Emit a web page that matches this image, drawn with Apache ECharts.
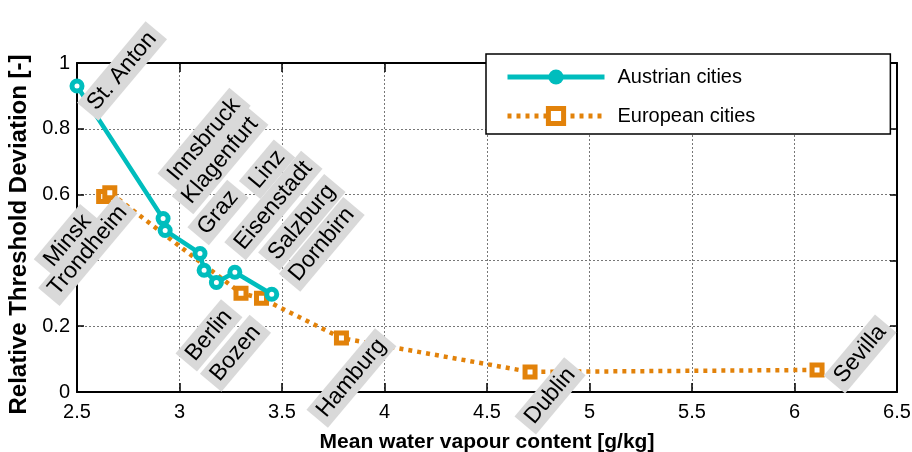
<!DOCTYPE html>
<html><head><meta charset="utf-8">
<script src="https://cdn.jsdelivr.net/npm/echarts@6/dist/echarts.min.js"></script>
<style>html,body{margin:0;padding:0;background:#fff}#c{width:912px;height:452px}</style>
</head><body><div id="c"></div>
<script>
// ---- data ----
const austrianCities = ['St. Anton','Innsbruck','Klagenfurt','Graz','Linz','Eisenstadt','Salzburg','Dornbirn'];
const austrianVapour = [2.50, 2.92, 2.93, 3.10, 3.12, 3.18, 3.27, 3.45];
const austrianDeviation = [0.93, 0.527, 0.491, 0.421, 0.370, 0.333, 0.364, 0.297];
const europeanCities = ['Minsk','Trondheim','Berlin','Bozen','Hamburg','Dublin','Sevilla'];
const europeanVapour = [2.63, 2.66, 3.30, 3.40, 3.79, 4.71, 6.11];
const europeanDeviation = [0.594, 0.606, 0.300, 0.285, 0.164, 0.061, 0.067];
const xTickLabels = ['2.5','3','3.5','4','4.5','5','5.5','6','6.5'];
const yTickLabels = ['0','0.2','0.4','0.6','0.8','1'];
const seriesNames = ['Austrian cities','European cities'];
const xTitle = 'Mean water vapour content [g/kg]';
const yTitle = 'Relative Threshold Deviation [-]';

// ---- label layout (screen displacement from point to label centre, px) ----
const labelShift = {
  'St. Anton':[45,-15], 'Innsbruck':[41,-79], 'Klagenfurt':[55,-70], 'Graz':[18,-41],
  'Linz':[63,-101], 'Eisenstadt':[57,-77], 'Salzburg':[67,-50], 'Dornbirn':[50,-50],
  'Minsk':[-36,44], 'Trondheim':[-22,58], 'Berlin':[-32,42], 'Bozen':[-26,55],
  'Hamburg':[10,40], 'Dublin':[20,24], 'Sevilla':[43,-16]
};
const ROT = 50;
function rotOffset(d){
  const t = ROT*Math.PI/180, c=Math.cos(t), s=Math.sin(t);
  return [d[0]*c - d[1]*s, d[0]*s + d[1]*c];
}
function build(names, xs, ys){
  return names.map((n,i)=>({name:n, value:[xs[i], ys[i]], label:{offset: rotOffset(labelShift[n])}}));
}
const FONT = 'Liberation Sans, Arial, sans-serif';
const TEAL = '#00bdbd', ORANGE = '#e2820a';
const labelStyle = {
  show:true, position:'inside', rotate:ROT, formatter:'{b}', color:'#000',
  fontFamily:FONT, fontSize:23, backgroundColor:'#d9d9d9', padding:[3,6,2,6]
};

const chart = echarts.init(document.getElementById('c'), null, {renderer:'canvas'});
const axisCommon = {
  type:'value', axisLine:{show:true, onZero:false, lineStyle:{color:'#000', width:2}},
  axisTick:{show:true, inside:true, lineStyle:{color:'#000', width:1.5}},
};
chart.setOption({
  animation:false,
  backgroundColor:'#fff',
  grid:{left:77, right:15, top:63, bottom:60, containLabel:false, outerBoundsMode:'none'},
  legend:{
    orient:'vertical', left:486, top:54,
    data:[
      {name:seriesNames[0], itemStyle:{color:TEAL, borderColor:TEAL, borderWidth:0}, lineStyle:{color:TEAL, width:5}},
      {name:seriesNames[1], itemStyle:{color:'#fff', borderColor:ORANGE, borderWidth:5}, lineStyle:{color:ORANGE, width:5, type:[4,5]}}
    ],
    itemWidth:97, itemHeight:19, itemGap:17,
    padding:[12,135,7,19],
    backgroundColor:'#fff', borderColor:'#000', borderWidth:1.5,
    textStyle:{fontFamily:FONT, fontSize:20, color:'#000', lineHeight:22, padding:[0,0,0,8]}
  },
  xAxis:[
    Object.assign({}, axisCommon, {
      min:2.5, max:6.5, interval:0.5, position:'bottom',
      axisTick:Object.assign({}, axisCommon.axisTick, {length:9}),
      axisLabel:{fontFamily:FONT, fontSize:20, color:'#000', margin:10,
        formatter:(v)=>xTickLabels[Math.round((v-2.5)/0.5)] ?? ''},
      splitLine:{show:true, lineStyle:{color:'#777', width:1, type:[2,2]}},
      name:xTitle, nameLocation:'middle', nameGap:40,
      nameTextStyle:{fontFamily:FONT, fontSize:21, fontWeight:'bold', color:'#000'}
    }),
    Object.assign({}, axisCommon, {
      min:2.5, max:6.5, interval:0.5, position:'top',
      axisTick:Object.assign({}, axisCommon.axisTick, {length:9}),
      axisLabel:{show:false}, splitLine:{show:false}
    })
  ],
  yAxis:[
    Object.assign({}, axisCommon, {
      min:0, max:1, interval:0.2, position:'left',
      axisTick:Object.assign({}, axisCommon.axisTick, {length:7}),
      axisLabel:{fontFamily:FONT, fontSize:20, color:'#000', margin:7,
        formatter:(v)=>yTickLabels[Math.round(v/0.2)] ?? ''},
      splitLine:{show:true, lineStyle:{color:'#777', width:1, type:[2,2]}},
      name:yTitle, nameLocation:'middle', nameGap:45, nameRotate:90,
      nameTextStyle:{fontFamily:FONT, fontSize:24, fontWeight:'bold', color:'#000', padding:[0,14,0,0]}
    }),
    Object.assign({}, axisCommon, {
      min:0, max:1, interval:0.2, position:'right',
      axisTick:Object.assign({}, axisCommon.axisTick, {length:7}),
      axisLabel:{show:false}, splitLine:{show:false}
    })
  ],
  series:[
    {
      name:seriesNames[1], type:'line', xAxisIndex:0, yAxisIndex:0, clip:false, z:2,
      data:build(europeanCities, europeanVapour, europeanDeviation),
      symbol:'rect', symbolSize:10,
      lineStyle:{color:ORANGE, width:4.5, type:[4,5], cap:'butt'},
      itemStyle:{color:'#fff', borderColor:ORANGE, borderWidth:5},
      label:labelStyle, emphasis:{disabled:true}
    },
    {
      name:seriesNames[0], type:'line', xAxisIndex:0, yAxisIndex:0, clip:false, z:3,
      data:build(austrianCities, austrianVapour, austrianDeviation),
      symbol:'circle', symbolSize:10,
      lineStyle:{color:TEAL, width:4.5},
      itemStyle:{color:'#fff', borderColor:TEAL, borderWidth:5},
      label:labelStyle, emphasis:{disabled:true}
    }
  ]
});
</script>
</body></html>
